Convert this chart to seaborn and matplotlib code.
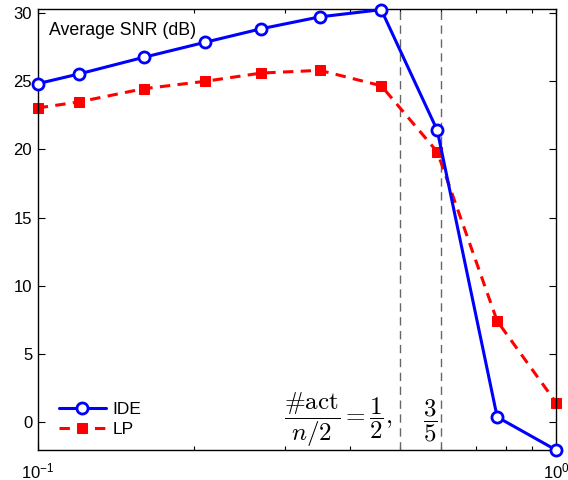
import matplotlib
matplotlib.use("Agg")
import matplotlib.pyplot as plt
import matplotlib.ticker as mticker
import seaborn as sns
import numpy as np
import pandas as pd

# data
act_ratio = [0.10, 0.12, 0.16, 0.21, 0.27, 0.35, 0.46, 0.59, 0.77, 1.00]
snr_ide = [24.82, 25.53, 26.75, 27.85, 28.85, 29.72, 30.25, 21.4, 0.37, -2.05]
snr_lp = [23.04, 23.48, 24.45, 24.99, 25.6, 25.8, 24.67, 19.82, 7.41, 1.43]
thresholds = [0.5, 0.6]

sns.set_style("ticks")
plt.rcParams["font.family"] = ["Liberation Sans", "DejaVu Sans"]
plt.rcParams["mathtext.fontset"] = "cm"
plt.rcParams["text.color"] = "black"
plt.rcParams["xtick.color"] = "black"
plt.rcParams["ytick.color"] = "black"

df = pd.DataFrame({"x": act_ratio, "IDE": snr_ide, "LP": snr_lp})

fig = plt.figure(figsize=(5.68, 4.8), dpi=100)
ax = fig.add_axes([0.0664, 0.0625, 0.9125, 0.9188])

for t in thresholds:
    ax.axvline(t, color="#666666", lw=1.0, ls=(0, (6, 4)), zorder=1)

sns.lineplot(data=df, x="x", y="IDE", ax=ax, color="blue", lw=2.2,
             marker="o", markersize=8, markerfacecolor="white",
             markeredgecolor="blue", markeredgewidth=2.0,
             estimator=None, sort=False, label="IDE", zorder=3, clip_on=False)
sns.lineplot(data=df, x="x", y="LP", ax=ax, color="red", lw=2.2,
             ls=(0, (3.4, 2.4)), marker="s", markersize=7,
             markerfacecolor="red", markeredgecolor="red",
             estimator=None, sort=False, label="LP", zorder=2, clip_on=False)

ax.set_xscale("log")
ax.set_xlim(0.1, 1.0)
ax.set_ylim(-2.05, 30.3)
ax.set_yticks([0, 5, 10, 15, 20, 25, 30])
ax.xaxis.set_minor_formatter(mticker.NullFormatter())
ax.set_xlabel("")
ax.set_ylabel("")
ax.tick_params(which="both", direction="in", top=True, right=True,
               labelsize=12, width=0.8)
ax.tick_params(axis="x", pad=8)
ax.tick_params(axis="y", pad=4)
ax.tick_params(which="major", length=5)
ax.tick_params(which="minor", length=3)
for s in ax.spines.values():
    s.set_linewidth(1.0)
    s.set_color("black")

ax.text(0.022, 0.97, "Average SNR (dB)", transform=ax.transAxes,
        ha="left", va="top", fontsize=12.8)

ax.text(0.579, 0.07, r"$\dfrac{\#\mathrm{act}}{n/2}=\dfrac{1}{2},$",
        transform=ax.transAxes, ha="center", va="center", fontsize=18)
ax.text(0.758, 0.066, r"$\dfrac{3}{5}$",
        transform=ax.transAxes, ha="center", va="center", fontsize=18)

ax.legend(loc="lower left", bbox_to_anchor=(0.01, -0.005), frameon=False,
          fontsize=12.5, handlelength=2.76, handletextpad=0.35,
          labelspacing=0.25)

fig.savefig("out.png", dpi=100)
